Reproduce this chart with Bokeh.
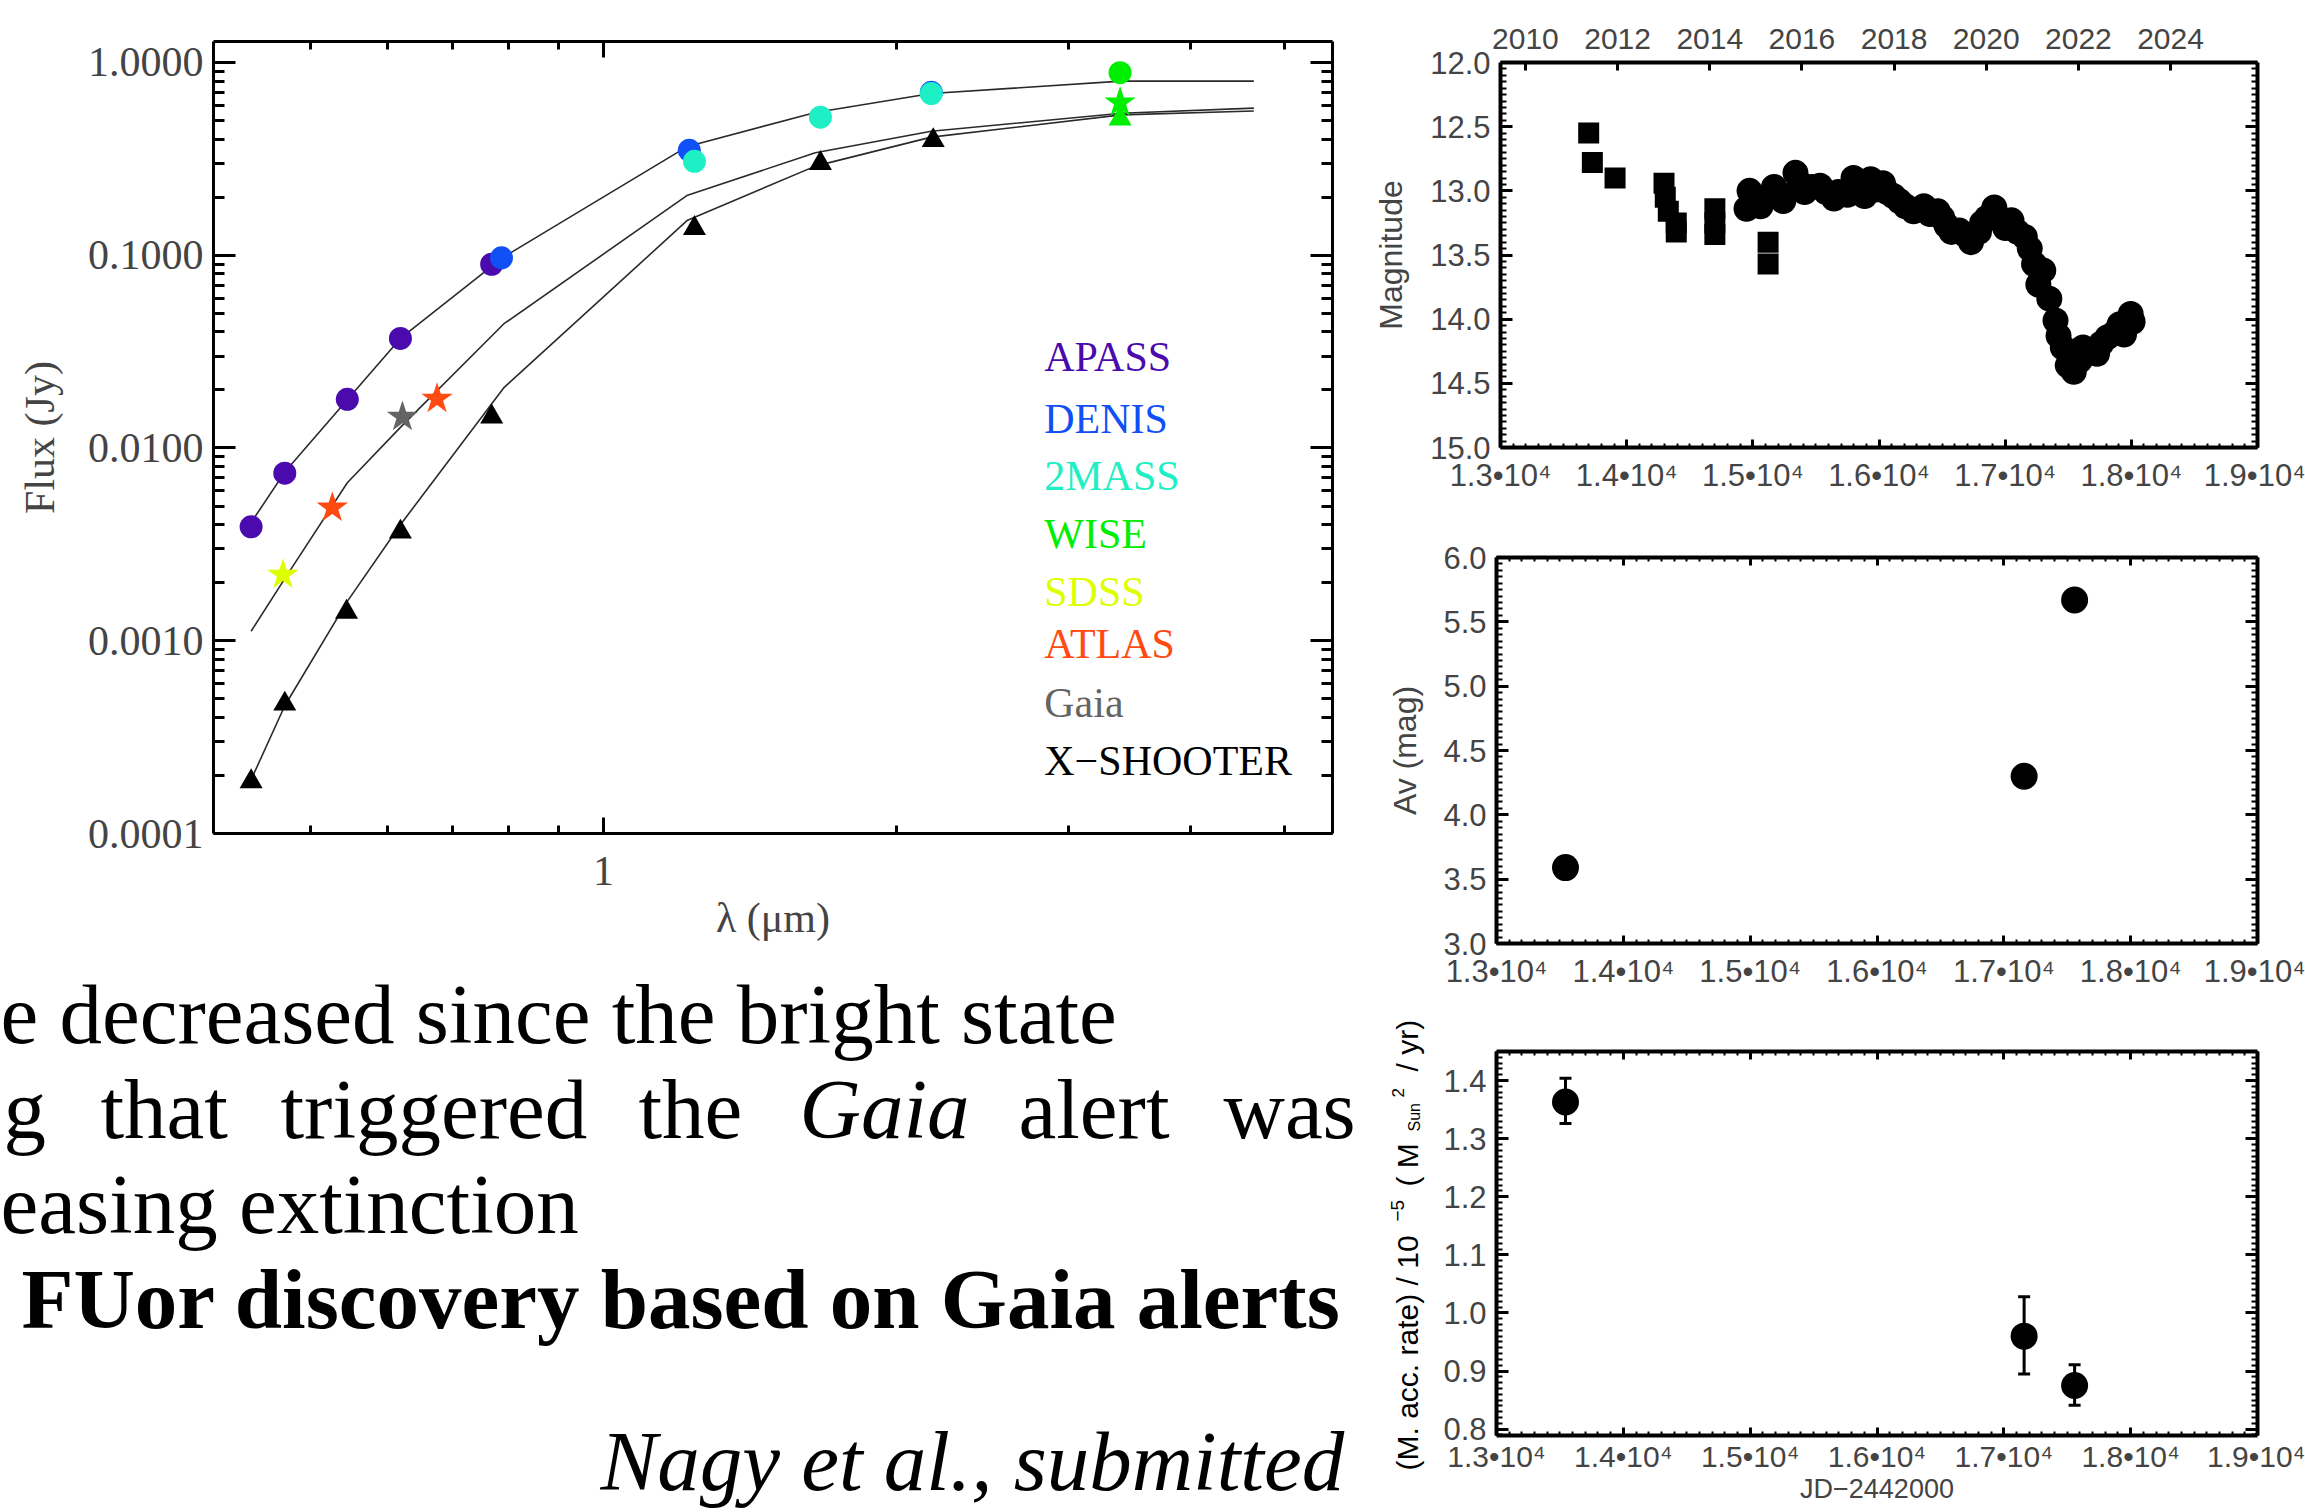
import math
from bokeh.plotting import figure
from bokeh.layouts import row, column
from bokeh.models import (Range1d, FixedTicker, SingleIntervalTicker, CustomJSTickFormatter,
                          LinearAxis, LogAxis, Label, Whisker, ColumnDataSource, TeeHead)
from bokeh.embed import file_html
from bokeh.resources import INLINE

# ---------------- SED data (wavelength in micron, flux in Jy) ----------------
apass_wl = [0.435, 0.471, 0.546, 0.619, 0.768]
apass_flux = [0.0039, 0.0074, 0.0179, 0.037, 0.0898]
denis_wl = [0.786, 1.225, 2.17]
denis_flux = [0.097, 0.35, 0.70]
tmass_wl = [1.24, 1.67, 2.17]
tmass_flux = [0.307, 0.52, 0.69]
wise_circ_wl = [3.39]
wise_circ_flux = [0.885]
wise_star_wl = [3.39]
wise_star_flux = [0.62]
wise_tri_wl = [3.39]
wise_tri_flux = [0.51]
sdss_wl = [0.469]
sdss_flux = [0.0022]
atlas_wl = [0.527, 0.675]
atlas_flux = [0.0049, 0.018]
gaia_wl = [0.622]
gaia_flux = [0.0145]
xsh_wl = [0.435, 0.471, 0.545, 0.619, 0.768, 1.24, 1.67, 2.18]
xsh_flux = [0.000186, 0.00047, 0.00141, 0.00367, 0.0145, 0.138, 0.30, 0.394]

model_wl = [0.435, 0.471, 0.546, 0.619, 0.79, 1.22, 1.65, 2.17, 3.4, 4.65]
model_bright = [0.0041, 0.0075, 0.0178, 0.037, 0.098, 0.367, 0.55, 0.69, 0.80, 0.80]
model_mid = [0.00112, 0.0021, 0.0066, 0.0128, 0.044, 0.205, 0.34, 0.44, 0.545, 0.58]
model_faint = [0.00019, 0.00046, 0.0016, 0.0040, 0.0205, 0.152, 0.29, 0.41, 0.535, 0.56]

legend_names = ["APASS", "DENIS", "2MASS", "WISE", "SDSS", "ATLAS", "Gaia", "X\u2212SHOOTER"]
legend_colors = ["#4A0AAE", "#1050F5", "#1EEFC4", "#00EE00", "#DDFF00", "#FF4A12", "#646464", "#000000"]
legend_flux = [0.0298, 0.0142, 0.00712, 0.00356, 0.00178, 0.000958, 0.000475, 0.000237]
legend_wl = 2.834

# ---------------- light curve (JD-2442000, magnitude) ----------------
sq_jd = [13699, 13728, 13908, 14296, 14306, 14330, 14393, 14393, 14699, 14699, 14699, 15121, 15121]
sq_mag = [12.55, 12.78, 12.90, 12.94, 13.05, 13.16, 13.25, 13.32, 13.14, 13.25, 13.34, 13.40, 13.57]
ci_jd = [14950, 14974, 15013, 15061, 15110, 15168, 15207, 15241, 15338, 15372, 15410, 15468,
         15532, 15580, 15643, 15677, 15750, 15798, 15837, 15886, 15934, 15973, 16031, 16065,
         16114, 16162, 16210, 16274, 16356, 16404, 16467, 16501, 16535, 16574, 16637, 16681,
         16729, 16792, 16817, 16856, 16914, 16953, 17001, 17050, 17098, 17156, 17195, 17229,
         17302, 17263, 17350, 17399, 17423, 17457, 17496, 17544, 17593, 17617, 17665, 17728,
         17762, 17811, 17874, 17908, 17942, 17995, 18010]
ci_mag = [13.14, 13.00, 13.08, 13.12, 13.05, 12.97, 13.02, 13.08, 12.86, 12.94, 13.01, 12.97,
          12.96, 13.01, 13.06, 13.01, 13.03, 12.90, 12.97, 13.04, 12.91, 12.99, 12.94, 13.01,
          13.04, 13.08, 13.12, 13.16, 13.12, 13.18, 13.16, 13.21, 13.27, 13.32, 13.31, 13.34,
          13.40, 13.32, 13.25, 13.21, 13.13, 13.21, 13.29, 13.23, 13.32, 13.36, 13.45, 13.57,
          13.62, 13.73, 13.84, 14.01, 14.13, 14.22, 14.36, 14.41, 14.32, 14.22, 14.26, 14.27,
          14.19, 14.14, 14.10, 14.04, 14.12, 13.96, 14.02]

# ---------------- extinction and accretion rate ----------------
epoch_jd = [13544, 17160, 17558]
av_mag = [3.59, 4.30, 5.67]
acc_rate = [1.363, 0.960, 0.875]
acc_upper = [1.404, 1.028, 0.911]
acc_lower = [1.326, 0.895, 0.841]

year_ticks = [2010, 2012, 2014, 2016, 2018, 2020, 2022, 2024]
JD_2010 = 13197.5  # JD 2455197.5 - 2442000

SERIF = "Liberation Serif"
SANS = "Liberation Sans"

# ======================= SED figure =======================
sed = figure(width=1370, height=960, x_axis_type="log", y_axis_type="log",
             x_range=Range1d(0.398, 5.6), y_range=Range1d(1.0e-4, 1.285),
             output_backend="svg", toolbar_location=None, frame_align=False,
             min_border_left=213, min_border_right=38, min_border_top=41, min_border_bottom=127)
sed.grid.visible = False
sed.outline_line_color = None

xt = FixedTicker(ticks=[1.0], minor_ticks=[0.5, 0.6, 0.7, 0.8, 0.9, 2, 3, 4, 5])
yt = FixedTicker(ticks=[1e-4, 1e-3, 1e-2, 1e-1, 1.0],
                 minor_ticks=[k * 10.0 ** d for d in range(-4, 0) for k in range(2, 10)])


def sed_axis(ax, tin, minin):
    ax.axis_line_width = 3
    ax.axis_line_color = "black"
    ax.major_tick_in = tin
    ax.major_tick_out = 0
    ax.minor_tick_in = minin
    ax.minor_tick_out = 0
    ax.major_tick_line_width = 3
    ax.minor_tick_line_width = 3
    ax.major_label_text_font = SERIF
    ax.major_label_text_font_size = "42px"
    ax.axis_label_text_font = SERIF
    ax.axis_label_text_font_size = "42px"
    ax.axis_label_text_font_style = "normal"


bx = sed.xaxis[0]
bx.ticker = xt
bx.formatter = CustomJSTickFormatter(code="return tick.toFixed(0);")
bx.axis_label = "\u03bb (\u03bcm)"
bx.major_label_standoff = 23
bx.axis_label_standoff = 7
sed_axis(bx, 16, 8)

ly = sed.yaxis[0]
ly.ticker = yt
ly.formatter = CustomJSTickFormatter(code="return tick.toFixed(4);")
ly.axis_label = "Flux (Jy)"
ly.major_label_standoff = 10
ly.axis_label_standoff = 22
sed_axis(ly, 22, 11)

tx = LogAxis(ticker=xt, formatter=CustomJSTickFormatter(code="return '';"))
sed_axis(tx, 16, 8)
sed.add_layout(tx, "above")
ry = LogAxis(ticker=yt, formatter=CustomJSTickFormatter(code="return '';"))
sed_axis(ry, 22, 11)
sed.add_layout(ry, "right")

for m in (model_bright, model_mid, model_faint):
    sed.line(model_wl, m, line_color="#2a2a2a", line_width=1.6)

sed.scatter(apass_wl, apass_flux, marker="circle", size=23, fill_color=legend_colors[0], line_color=None)
sed.scatter(denis_wl, denis_flux, marker="circle", size=23, fill_color=legend_colors[1], line_color=None)
sed.scatter(tmass_wl, tmass_flux, marker="circle", size=23, fill_color=legend_colors[2], line_color=None)
sed.scatter(wise_tri_wl, wise_tri_flux, marker="triangle", size=23, fill_color=legend_colors[3], line_color=None)
sed.scatter(wise_circ_wl, wise_circ_flux, marker="circle", size=23, fill_color=legend_colors[3], line_color=None)
sed.scatter(wise_star_wl, wise_star_flux, marker="star", size=33, fill_color=legend_colors[3], line_color=None)
sed.scatter(sdss_wl, sdss_flux, marker="star", size=33, fill_color=legend_colors[4], line_color=None)
sed.scatter(atlas_wl, atlas_flux, marker="star", size=33, fill_color=legend_colors[5], line_color=None)
sed.scatter(gaia_wl, gaia_flux, marker="star", size=33, fill_color=legend_colors[6], line_color=None)
sed.scatter(xsh_wl, xsh_flux, marker="triangle", size=23, fill_color="black", line_color=None)

for name, col, fl in zip(legend_names, legend_colors, legend_flux):
    sed.add_layout(Label(x=legend_wl, y=fl, text=name, text_color=col, text_font=SERIF,
                         text_font_size="42px", text_align="left", text_baseline="alphabetic"))

# ======================= slide text (data coords = page pixels) =======================
tf = figure(width=1370, height=552, x_range=Range1d(0, 1370), y_range=Range1d(1512, 960),
            output_backend="svg", toolbar_location=None, min_border=0, frame_align=False,
            x_axis_location=None, y_axis_location=None)
tf.grid.visible = False
tf.outline_line_color = None

text_items = [
    ("e decreased since the bright state", 0, 1013, "normal"),
    ("g", 3, 1108, "normal"),
    ("that", 100, 1108, "normal"),
    ("triggered", 280, 1108, "normal"),
    ("the", 638, 1108, "normal"),
    ("Gaia", 799, 1108, "italic"),
    ("alert", 1018, 1108, "normal"),
    ("was", 1223, 1108, "normal"),
    ("easing extinction", 0, 1203, "normal"),
    ("FUor discovery based on Gaia alerts", 21, 1298, "bold"),
    ("Nagy et al., submitted", 600, 1460, "italic"),
]
for txt, x, y, st in text_items:
    tf.add_layout(Label(x=x, y=y, text=txt, text_font=SERIF, text_font_size="85px",
                        text_font_style=st, text_color="black",
                        text_align="left", text_baseline="alphabetic"))


# ======================= right panels =======================
def panel_axis(ax, major_in, minor_in):
    ax.axis_line_width = 4
    ax.axis_line_color = "black"
    ax.major_tick_in = major_in
    ax.major_tick_out = 0
    ax.minor_tick_in = minor_in
    ax.minor_tick_out = 0
    ax.major_tick_line_width = 3
    ax.minor_tick_line_width = 2
    ax.major_label_text_font = SANS
    ax.major_label_text_font_size = "31px"
    ax.axis_label_text_font = SANS
    ax.axis_label_text_font_size = "32px"
    ax.axis_label_text_font_style = "normal"


jd_fmt = "return (tick/10000).toFixed(1) + '\u2022' + '10\u2074';"


def make_panel(width, height, yr, ytick, bl, bt, bb, ylabel, ystand, top_years=False):
    p = figure(width=width, height=height, x_range=Range1d(13000, 19000), y_range=yr,
               output_backend="svg", toolbar_location=None, frame_align=False,
               min_border_left=bl, min_border_right=48, min_border_top=bt, min_border_bottom=bb)
    p.grid.visible = False
    p.outline_line_color = None
    jt = SingleIntervalTicker(interval=1000, num_minor_ticks=10)
    xa = p.xaxis[0]
    xa.ticker = jt
    xa.formatter = CustomJSTickFormatter(code=jd_fmt)
    xa.major_label_standoff = 10
    panel_axis(xa, 8, 4)
    ya = p.yaxis[0]
    ya.ticker = ytick
    ya.formatter = CustomJSTickFormatter(code="return tick.toFixed(1);")
    ya.major_label_standoff = 10
    if ylabel:
        ya.axis_label = ylabel
        ya.axis_label_standoff = ystand
    panel_axis(ya, 12, 6)
    if top_years:
        p.extra_x_ranges = {"year": Range1d(2010 + (13000 - JD_2010) / 365.25,
                                            2010 + (19000 - JD_2010) / 365.25)}
        ta = LinearAxis(x_range_name="year", ticker=FixedTicker(ticks=year_ticks),
                        formatter=CustomJSTickFormatter(code="return tick.toFixed(0);"))
        panel_axis(ta, 8, 0)
        ta.major_label_text_font_size = "30px"
        ta.major_label_standoff = 14
    else:
        ta = LinearAxis(ticker=jt, formatter=CustomJSTickFormatter(code="return '';"))
        panel_axis(ta, 8, 4)
    p.add_layout(ta, "above")
    ra = LinearAxis(ticker=ytick, formatter=CustomJSTickFormatter(code="return '';"))
    panel_axis(ra, 12, 6)
    p.add_layout(ra, "right")
    return p, xa


f1, _ = make_panel(935, 500, Range1d(15.0, 12.0), SingleIntervalTicker(interval=0.5, num_minor_ticks=10),
                   126, 62, 53, "Magnitude", 18, top_years=True)
f1.scatter(sq_jd, sq_mag, marker="square", size=21, fill_color="black", line_color=None)
f1.scatter(ci_jd, ci_mag, marker="circle", size=26, fill_color="black", line_color=None)

f2, _ = make_panel(935, 500, Range1d(3.0, 6.0), SingleIntervalTicker(interval=0.5, num_minor_ticks=10),
                   126, 57, 57, "Av (mag)", 17)
f2.scatter(epoch_jd, av_mag, marker="circle", size=27, fill_color="black", line_color=None)

f3, f3x = make_panel(875, 512, Range1d(0.789, 1.45), SingleIntervalTicker(interval=0.1, num_minor_ticks=10),
                     66, 51, 77, "", 18)
f3x.axis_label = "JD\u22122442000"
f3x.axis_label_text_font_size = "27px"
f3x.axis_label_standoff = -2
f3x.major_label_standoff = 4
f3x.major_label_text_font_size = "30px"
src = ColumnDataSource(dict(x=epoch_jd, y=acc_rate, up=acc_upper, lo=acc_lower))
f3.add_layout(Whisker(source=src, base="x", upper="up", lower="lo", dimension="height",
                      line_width=3, line_color="black",
                      upper_head=TeeHead(size=12, line_width=3, line_color="black"),
                      lower_head=TeeHead(size=12, line_width=3, line_color="black")))
f3.scatter(epoch_jd, acc_rate, marker="circle", size=27, fill_color="black", line_color=None)

# rotated composite y label for the accretion panel (data coords = page pixels)
yl = figure(width=60, height=512, x_range=Range1d(1370, 1430), y_range=Range1d(1512, 1000),
            output_backend="svg", toolbar_location=None, min_border=0, frame_align=False,
            x_axis_location=None, y_axis_location=None)
yl.grid.visible = False
yl.outline_line_color = None

ylab_parts = [
    ("(M. acc. rate) / 10", 1407, 1470, "30px"),
    ("\u22125", 1397, 1221, "19px"),
    ("( M", 1407, 1186, "30px"),
    ("Sun", 1414, 1131, "16px"),
    ("2", 1397, 1097, "17px"),
    ("/ yr)", 1407, 1071, "30px"),
]
for txt, px, py, fs in ylab_parts:
    yl.add_layout(Label(x=px, y=py, text=txt, angle=math.pi / 2, text_font=SANS,
                        text_font_size=fs, text_color="black",
                        text_align="left", text_baseline="middle"))

layout = row(column(sed, tf), column(f1, f2, row(yl, f3)))

open("out.html", "w", encoding="utf-8").write(file_html(layout, INLINE))
